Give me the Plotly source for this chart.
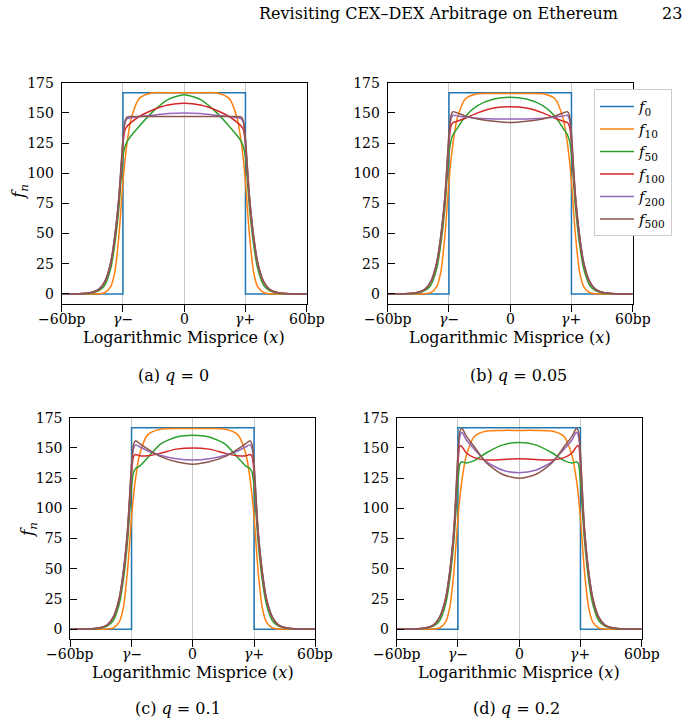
import plotly.graph_objects as go

# ---------------- data ----------------
X = [-60, -52, -46, -42, -39, -36, -34, -32, -31, -30, -29, -28, -26, -22, -16, -8, 0,
     8, 16, 22, 26, 28, 29, 30, 31, 32, 34, 36, 39, 42, 46, 52, 60]
X0 = [-60, -30, -30, 30, 30, 60]
F0 = [0, 0, 166.67, 166.67, 0, 0]

A_F10 = [0, 0, 0, 0.2, 1, 6, 18, 48, 70, 93, 111, 125, 145, 162, 166.5, 166.7, 166.7, 166.7, 166.5, 162, 145, 125, 111, 93, 70, 48, 18, 6, 1, 0.2, 0, 0, 0]
A_F50 = [0, 0.1, 0.6, 2.5, 7, 21, 41, 71, 93, 114, 122, 126, 131, 139, 150, 161, 165, 161, 150, 139, 131, 126, 122, 114, 93, 71, 41, 21, 7, 2.5, 0.6, 0.1, 0]
A_F100 = [0, 0.2, 1, 3.4, 9.5, 25, 46, 77, 100, 124, 136, 139, 142, 147, 152, 156.5, 158, 156.5, 152, 147, 142, 139, 136, 124, 100, 77, 46, 25, 9.5, 3.4, 1, 0.2, 0]
A_F200 = [0, 0.2, 1, 3.5, 10, 26, 48, 80, 103, 127, 142, 145, 146, 147, 148, 149.5, 150, 149.5, 148, 147, 146, 145, 142, 127, 103, 80, 48, 26, 10, 3.5, 1, 0.2, 0]
A_F500 = [0, 0.2, 1, 3.5, 10, 26, 48, 80, 104, 128, 143, 146.5, 147, 147, 147, 147, 147, 147, 147, 147, 147, 146.5, 143, 128, 104, 80, 48, 26, 10, 3.5, 1, 0.2, 0]

B_F10 = [0, 0, 0, 0.2, 1, 6, 18, 48, 70, 93, 111, 125, 145, 161.5, 165.8, 166, 166, 166, 165.8, 161.5, 145, 125, 111, 93, 70, 48, 18, 6, 1, 0.2, 0, 0, 0]
B_F50 = [0, 0.1, 0.6, 2.5, 7, 21, 41, 71, 94, 116, 127, 132, 137, 147, 156, 161.5, 163, 161.5, 156, 147, 137, 132, 127, 116, 94, 71, 41, 21, 7, 2.5, 0.6, 0.1, 0]
B_F100 = [0, 0.2, 1, 3.4, 9.5, 25, 46, 77, 101, 126, 139, 142, 143, 145.5, 150, 154, 155, 154, 150, 145.5, 143, 142, 139, 126, 101, 77, 46, 25, 9.5, 3.4, 1, 0.2, 0]
B_F200 = [0, 0.2, 1, 3.5, 10, 26, 48, 80, 104, 130, 145, 148, 147.5, 146.5, 145.5, 145, 145, 145, 145.5, 146.5, 147.5, 148, 145, 130, 104, 80, 48, 26, 10, 3.5, 1, 0.2, 0]
B_F500 = [0, 0.2, 1, 3.5, 10, 26, 48, 81, 106, 133, 148, 151, 150, 147.5, 145, 143, 142, 143, 145, 147.5, 150, 151, 148, 133, 106, 81, 48, 26, 10, 3.5, 1, 0.2, 0]

C_F10 = [0, 0, 0, 0.2, 1, 6, 18, 48, 70, 93, 111, 125, 145, 161, 165.5, 166, 166, 166, 165.5, 161, 145, 125, 111, 93, 70, 48, 18, 6, 1, 0.2, 0, 0, 0]
C_F50 = [0, 0.1, 0.6, 2.5, 7, 21, 41, 72, 95, 118, 130, 133, 135, 142, 153, 159, 160.5, 159, 153, 142, 135, 133, 130, 118, 95, 72, 41, 21, 7, 2.5, 0.6, 0.1, 0]
C_F100 = [0, 0.2, 1, 3.4, 9.5, 25, 46, 78, 103, 129, 143, 144.5, 143.5, 143.5, 145.5, 149, 150, 149, 145.5, 143.5, 143.5, 144.5, 143, 129, 103, 78, 46, 25, 9.5, 3.4, 1, 0.2, 0]
C_F200 = [0, 0.2, 1, 3.5, 10, 26, 48, 81, 107, 134, 150, 152.5, 151, 147.5, 144, 141, 140, 141, 144, 147.5, 151, 152.5, 150, 134, 107, 81, 48, 26, 10, 3.5, 1, 0.2, 0]
C_F500 = [0, 0.2, 1, 3.5, 10, 26, 48, 82, 109, 137, 153, 156, 153.5, 149, 143, 138.5, 136.5, 138.5, 143, 149, 153.5, 156, 153, 137, 109, 82, 48, 26, 10, 3.5, 1, 0.2, 0]

D_F10 = [0, 0, 0, 0.2, 1, 6, 18, 47, 69, 92, 110, 124, 143, 159.5, 164, 164.5, 164.5, 164.5, 164, 159.5, 143, 124, 110, 92, 69, 47, 18, 6, 1, 0.2, 0, 0, 0]
D_F50 = [0, 0.1, 0.6, 2.5, 7, 21, 41, 73, 97, 122, 137, 138.5, 137.5, 139.5, 146, 152.5, 154.5, 152.5, 146, 139.5, 137.5, 138.5, 137, 122, 97, 73, 41, 21, 7, 2.5, 0.6, 0.1, 0]
D_F100 = [0, 0.2, 1, 3.4, 9.5, 25, 46, 79, 106, 136, 152, 151, 146, 142, 140, 140.5, 141, 140.5, 140, 142, 146, 151, 152, 136, 106, 79, 46, 25, 9.5, 3.4, 1, 0.2, 0]
D_F200 = [0, 0.2, 1, 3.5, 10, 26, 48, 82, 110, 142, 160, 163, 157, 149, 138.5, 131.5, 129.5, 131.5, 138.5, 149, 157, 163, 160, 142, 110, 82, 48, 26, 10, 3.5, 1, 0.2, 0]
D_F500 = [0, 0.2, 1, 3.5, 10, 26, 48, 83, 113, 146, 164, 166, 160, 151, 137.5, 128, 125, 128, 137.5, 151, 160, 166, 164, 146, 113, 83, 48, 26, 10, 3.5, 1, 0.2, 0]

NAMES = ["<i>f</i><sub>0</sub>", "<i>f</i><sub>10</sub>", "<i>f</i><sub>50</sub>",
         "<i>f</i><sub>100</sub>", "<i>f</i><sub>200</sub>", "<i>f</i><sub>500</sub>"]
COLORS = ["#1f77b4", "#ff7f0e", "#2ca02c", "#d62728", "#9467bd", "#8c564b"]
X_TICKVALS = [-60, -30, 0, 30, 60]
X_TICKTEXT = ["\u221260bp", "<i>\u03b3</i>\u2212", "0", "<i>\u03b3</i>+", "60bp"]
Y_TICKVALS = [0, 25, 50, 75, 100, 125, 150, 175]
CAPTIONS = ["(a) <i>q</i> = 0", "(b) <i>q</i> = 0.05", "(c) <i>q</i> = 0.1", "(d) <i>q</i> = 0.2"]

PANEL_SERIES = [
    [A_F10, A_F50, A_F100, A_F200, A_F500],
    [B_F10, B_F50, B_F100, B_F200, B_F500],
    [C_F10, C_F50, C_F100, C_F200, C_F500],
    [D_F10, D_F50, D_F100, D_F200, D_F500],
]

# ---------------- layout geometry (pixels) ----------------
W, H = 695, 723
FONT = "DejaVu Serif"
# (left, right, top, bottom) of each plot box
BOXES = [(61.7, 306.7, 82.7, 304.0), (387.7, 632.7, 82.7, 304.0),
         (70.3, 315.3, 417.7, 639.3), (396.7, 641.7, 417.7, 639.3)]
CAP_POS = [(174, 375), (518, 375), (178, 708), (516, 708)]


def px(x):
    return x / W


def py(y):
    return 1 - y / H


fig = go.Figure()
layout = dict(
    width=W, height=H,
    margin=dict(l=0, r=0, t=0, b=0, autoexpand=False),
    paper_bgcolor="white", plot_bgcolor="white",
    font=dict(family=FONT, size=14, color="black"),
    showlegend=True,
    legend=dict(x=px(594), y=py(89.3), xanchor="left", yanchor="top",
                bgcolor="white", bordercolor="#cccccc", borderwidth=1,
                font=dict(family=FONT, size=15, color="black"),
                itemwidth=34, tracegroupgap=0,
                entrywidth=88, entrywidthmode="pixels"),
)

annotations = []
for i, (l, r, t, b) in enumerate(BOXES):
    k = "" if i == 0 else str(i + 1)
    xa, ya = "x" + k, "y" + k
    layout["xaxis" + k] = dict(
        domain=[px(l), px(r)], anchor=ya, range=[-60, 60],
        tickmode="array", tickvals=X_TICKVALS, showticklabels=False,
        ticks="outside", ticklen=7, tickwidth=1, tickcolor="black",
        showline=True, linecolor="black", linewidth=1, mirror=True,
        showgrid=True, gridcolor="#c8c8c8", gridwidth=1.3, zeroline=False,
    )
    layout["yaxis" + k] = dict(
        domain=[py(b), py(t)], anchor=xa, range=[-8.33, 175],
        tickmode="array", tickvals=Y_TICKVALS,
        ticks="inside", ticklen=7, tickwidth=1, tickcolor="black",
        showline=True, linecolor="black", linewidth=1, mirror=True,
        showgrid=False, zeroline=False, ticklabelstandoff=4,
        tickfont=dict(family=FONT, size=14, color="black"),
    )
    fig.add_trace(go.Scatter(x=X0, y=F0, mode="lines", name=NAMES[0],
                             line=dict(color=COLORS[0], width=1.5),
                             xaxis=xa, yaxis=ya, showlegend=(i == 1)))
    for j, ser in enumerate(PANEL_SERIES[i]):
        fig.add_trace(go.Scatter(x=X, y=ser, mode="lines", name=NAMES[j + 1],
                                 line=dict(color=COLORS[j + 1], width=1.5,
                                           shape="spline", smoothing=0.7),
                                 xaxis=xa, yaxis=ya, showlegend=(i == 1)))
    # x tick labels placed on the axis scale
    for tv, tt in zip(X_TICKVALS, X_TICKTEXT):
        annotations.append(dict(text=tt, x=tv, xref=xa, y=py(b + 15), yref="paper",
                                xanchor="center", yanchor="middle", showarrow=False,
                                font=dict(family=FONT, size=14, color="black")))
    # x-axis title
    annotations.append(dict(text="Logarithmic Misprice (<i>x</i>)", x=px((l + r) / 2),
                            y=py(b + 33), xref="paper", yref="paper",
                            xanchor="center", yanchor="middle", showarrow=False,
                            font=dict(family=FONT, size=16, color="black")))
    cx, cy = CAP_POS[i]
    annotations.append(dict(text=CAPTIONS[i], x=px(cx), y=py(cy), xref="paper", yref="paper",
                            xanchor="center", yanchor="middle", showarrow=False,
                            font=dict(family=FONT, size=16, color="black")))

# y labels (only left panels)
for (lx, ly) in [(20, 192), (28, 530)]:
    annotations.append(dict(text="<i>f</i><sub><i>n</i></sub>", x=px(lx), y=py(ly),
                            xref="paper", yref="paper", xanchor="center", yanchor="middle",
                            textangle=-90, showarrow=False,
                            font=dict(family=FONT, size=17, color="black")))

# running header
annotations.append(dict(text="Revisiting CEX\u2013DEX Arbitrage on Ethereum", x=px(620), y=py(13),
                        xref="paper", yref="paper", xanchor="right", yanchor="middle",
                        showarrow=False, font=dict(family=FONT, size=16, color="black")))
annotations.append(dict(text="23", x=px(684), y=py(13), xref="paper", yref="paper",
                        xanchor="right", yanchor="middle", showarrow=False,
                        font=dict(family=FONT, size=16, color="black")))

layout["annotations"] = annotations
fig.update_layout(**layout)
fig.write_html("out.html")
